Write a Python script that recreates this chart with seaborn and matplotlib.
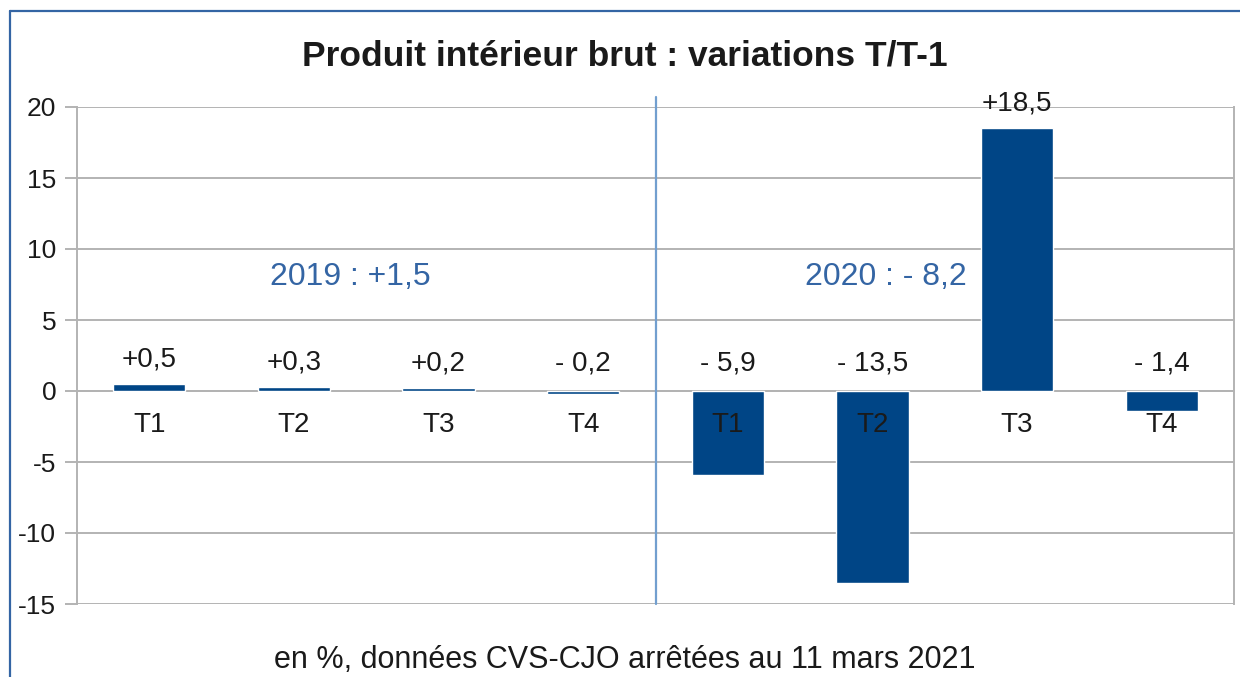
import pandas as pd
import seaborn as sns
import matplotlib.pyplot as plt
from matplotlib.lines import Line2D

# data (en %, variations T/T-1)
years = ['2019', '2019', '2019', '2019', '2020', '2020', '2020', '2020']
quarters = ['T1', 'T2', 'T3', 'T4', 'T1', 'T2', 'T3', 'T4']
values = [0.5, 0.3, 0.2, -0.2, -5.9, -13.5, 18.5, -1.4]
year_totals = {'2019': '+1,5', '2020': '- 8,2'}

df = pd.DataFrame({'year': years, 'quarter': quarters, 'value': values})
df['key'] = df['year'] + ' ' + df['quarter']


def fmt(v):
    s = f'{abs(v):.1f}'.replace('.', ',')
    return '+' + s if v >= 0 else '- ' + s


sns.set_theme(style='white')
plt.rcParams['font.family'] = ['Liberation Sans', 'DejaVu Sans']
plt.rcParams['axes.unicode_minus'] = False

fig = plt.figure(figsize=(12.4, 6.77), dpi=100)
ax = fig.add_axes([77 / 1240, 1 - 604 / 677, (1234 - 77) / 1240, (604 - 107) / 677])

sns.barplot(data=df, x='key', y='value', order=list(df['key']), color='#004586',
            saturation=1, width=0.5, ax=ax, zorder=3)

ax.set_ylim(-15, 20)
ax.set_yticks(range(-15, 21, 5))
ax.set_xlim(-0.5, len(df) - 0.5)
ax.set_axisbelow(True)
ax.yaxis.grid(True, color='#b3b3b3', linewidth=1.4)
ax.set_xlabel('')
ax.set_ylabel('')

grey = '#b3b3b3'
for side in ['left', 'right', 'bottom']:
    ax.spines[side].set_color(grey)
    ax.spines[side].set_linewidth(1.4)
ax.spines['top'].set_visible(False)
ax.spines['bottom'].set_position(('data', 0))

ax.set_xticks(range(len(df)))
ax.set_xticklabels([])
ax.set_xticks([i + 0.5 for i in range(len(df) - 1)], minor=True)
ax.tick_params(axis='x', which='major', length=0)
ax.tick_params(axis='x', which='minor', direction='out', length=7, width=1.4, color=grey)
ax.tick_params(axis='y', which='major', direction='out', length=9, width=1.4, color=grey,
               labelsize=19, labelcolor='#1a1a1a', pad=6, left=True)

# quarter labels on the zero line, over the bars
for i, q in enumerate(df['quarter']):
    ax.annotate(q, (i, 0), xytext=(0, -24.5), textcoords='offset points',
                ha='center', va='center', fontsize=20, color='#1a1a1a', zorder=6)

# value labels
for i, v in enumerate(df['value']):
    off = 17.5 if v > 0 else 19.5
    ax.annotate(fmt(v), (i, max(v, 0)), xytext=(0, off), textcoords='offset points',
                ha='center', va='center', fontsize=20, color='#1a1a1a', zorder=6)

# year separator and annual totals
ax.axvline(3.5, ymin=0, ymax=1.02, color='#729fcf', linewidth=1.6, clip_on=False, zorder=4)
ax.text(1.39, 8.0, '2019 : ' + year_totals['2019'], ha='center', va='center',
        fontsize=23, color='#3465a4')
ax.text(5.09, 8.0, '2020 : ' + year_totals['2020'], ha='center', va='center',
        fontsize=23, color='#3465a4')

fig.text(0.504, 1 - 56 / 677, 'Produit intérieur brut : variations T/T-1', ha='center',
         va='center', fontsize=25.5, fontweight='bold', color='#1a1a1a')
fig.text(0.504, 1 - 660 / 677, 'en %, données CVS-CJO arrêtées au 11 mars 2021',
         ha='center', va='center', fontsize=22, color='#1a1a1a')

# chart frame (left and top edges visible)
fx, fy = 10 / 1240, 1 - 11 / 677
fig.add_artist(Line2D([fx, fx], [0, fy], color='#3465a4', linewidth=1.6))
fig.add_artist(Line2D([fx, 1], [fy, fy], color='#3465a4', linewidth=1.6))

fig.savefig('out.png', dpi=100)
